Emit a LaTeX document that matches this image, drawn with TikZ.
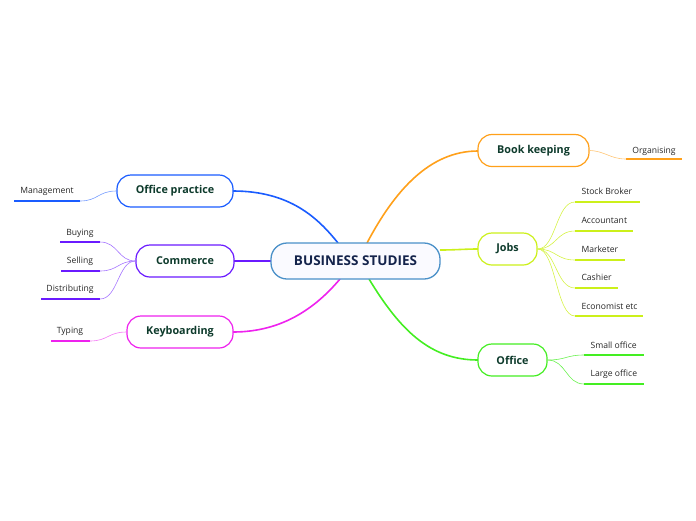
\documentclass[tikz,border=0pt]{standalone}
\usepackage{fontspec}
\setmainfont{Open Sans}
\begin{document}
\begin{tikzpicture}[x=1pt,y=-1pt,
  mainbox/.style={draw=#1, line width=1.2pt, rounded corners=14pt, fill=white, minimum height=32pt, inner xsep=10pt, font=\fontsize{10.8}{12}\selectfont\bfseries, text=txtgreen},
  leaf/.style={font=\fontsize{8.6}{10}\selectfont, text=black!85, yshift=-1.5pt},
  uline/.style={draw=#1, line width=1.8pt},
  thin/.style={draw=#1, line width=0.6pt},
  branch/.style={draw=#1, line width=1.6pt}]
\definecolor{txtgreen}{HTML}{0E3B2C}
\definecolor{cblue}{HTML}{4A90C8}
\definecolor{bop}{HTML}{1A5CFF}
\definecolor{bcom}{HTML}{6A1AFF}
\definecolor{bkey}{HTML}{EE22EE}
\definecolor{bbook}{HTML}{FFA01A}
\definecolor{bjobs}{HTML}{CCF01A}
\definecolor{boff}{HTML}{44EE22}
\useasboundingbox (0,0) rectangle (696,520);

% coordinates of connector ends
\coordinate (cOP) at (338,243);
\coordinate (cBK) at (367,243);
\coordinate (cJB) at (440,250);
\coordinate (cOF) at (369,279);
\coordinate (cKB) at (340,279);

% main connectors
\draw[branch=bop] (cOP) .. controls (318,218) and (290,191) .. (233,191);
\draw[branch=bbook] (cBK) .. controls (395,190) and (430,151) .. (478,151);
\draw[branch=bjobs] (cJB) .. controls (455,250) and (465,249) .. (478,249);
\draw[branch=boff] (cOF) .. controls (400,330) and (430,360) .. (478,360);
\draw[branch=bkey] (cKB) .. controls (318,305) and (285,332) .. (233,332);
\draw[branch=bcom] (271,261) -- (234,261);

% central node
\node[draw=cblue, line width=1.3pt, fill=blue!2, rounded corners=16pt, minimum width=169pt, minimum height=36pt, font=\fontsize{13.5}{16}\selectfont\bfseries, text={rgb,255:red,20;green,35;blue,75}, text depth=1pt] (c) at (355.5,261) {BUSINESS STUDIES};

% main nodes
\node[mainbox=bbook, minimum width=111pt] (bk) at (533.5,150.5) {Book keeping};
\node[mainbox=bjobs, minimum width=59pt] (jb) at (507.5,249) {Jobs};
\node[mainbox=boff, minimum width=69pt] (of) at (512.5,360) {Office};
\node[mainbox=bop, minimum width=116pt] (op) at (175,191) {Office practice};
\node[mainbox=bcom, minimum width=98pt] (cm) at (185,261) {Commerce};
\node[mainbox=bkey, minimum width=106pt] (kb) at (180,332) {Keyboarding};

% leaves: Book keeping
\node[leaf] (l1) at (654,150) {Organising};
\coordinate (u1a) at (626,159); \coordinate (u1b) at (682,159);
\draw[uline=bbook] (u1a) -- (u1b);
\draw[thin=bbook!60] (bk.east) .. controls (605,151) and (610,159) .. (u1a);

% Jobs leaves
\foreach \n/\t/\y/\e/\ty in {j1/Stock Broker/202/640/190, j2/Accountant/231/633/219, j3/Marketer/260/625/248, j4/Cashier/288/618/276, j5/Economist etc/316/643/305}{
  \node[leaf, anchor=west] (\n) at (578,\ty) {\t};
  \coordinate (\n a) at (575,\y); \coordinate (\n b) at (\e,\y);
  \draw[uline=bjobs] (\n a) -- (\n b);
  \draw[thin=bjobs!80] (jb.east) .. controls (556,249) and (556,\y) .. (\n a);
}

% Office leaves
\foreach \n/\t/\y/\ty in {o1/Small office/355/344, o2/Large office/384/373}{
  \node[leaf, anchor=west] (\n) at (587,\ty) {\t};
  \coordinate (\n a) at (584,\y); \coordinate (\n b) at (644,\y);
  \draw[uline=boff] (\n a) -- (\n b);
  \draw[thin=boff!80] (of.east) .. controls (566,360) and (566,\y) .. (\n a);
}

% Office practice leaf
\node[leaf] (m1) at (47,190) {Management};
\coordinate (m1a) at (80,201); \coordinate (m1b) at (14,201);
\draw[uline=bop] (m1a) -- (m1b);
\draw[thin=bop!60] (op.west) .. controls (98,191) and (98,201) .. (m1a);

% Commerce leaves
\foreach \n/\t/\y/\x/\ty/\tx in {c1/Buying/242/60/232/80, c2/Selling/271/61/260/80, c3/Distributing/299/41/288/70}{
  \node[leaf] (\n) at (\tx,\ty) {\t};
  \coordinate (\n a) at (100,\y); \coordinate (\n b) at (\x,\y);
  \draw[uline=bcom] (\n a) -- (\n b);
  \draw[thin=bcom!60] (cm.west) .. controls (118,261) and (118,\y) .. (\n a);
}

% Keyboarding leaf
\node[leaf] (t1) at (70,330) {Typing};
\coordinate (t1a) at (90,341); \coordinate (t1b) at (51,341);
\draw[uline=bkey] (t1a) -- (t1b);
\draw[thin=bkey!60] (kb.west) .. controls (108,332) and (108,341) .. (t1a);
\end{tikzpicture}
\end{document}
